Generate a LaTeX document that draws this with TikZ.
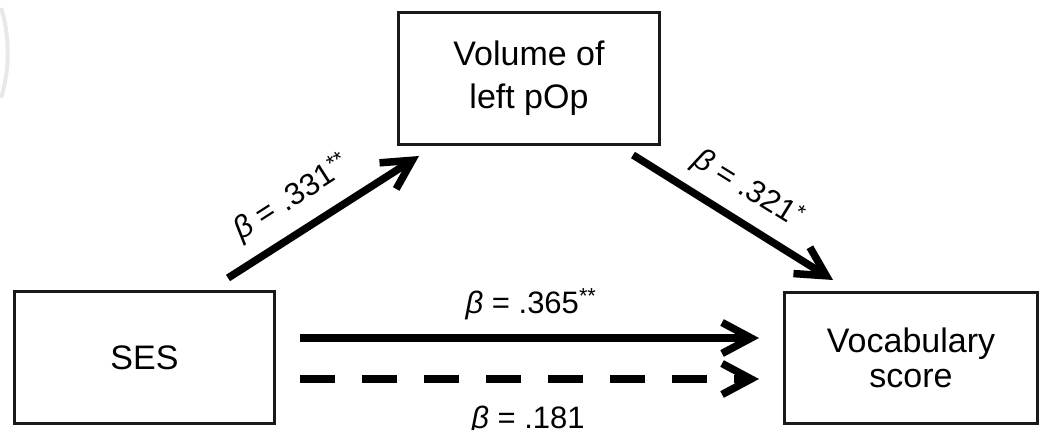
\documentclass[tikz,border=0pt]{standalone}
\usepackage{fontspec}
\setmainfont{Liberation Sans}
\usetikzlibrary{arrows.meta,calc}
\begin{document}
\begin{tikzpicture}[x=1pt,y=-1pt,
  box/.style={draw=black!90, line width=3pt, inner sep=0pt, align=center},
  boxfont/.style={font=\fontsize{34}{#1}\selectfont},
  lbl/.style={font=\fontsize{31}{36}\selectfont, inner sep=0pt},
  arr/.style={line width=7.5pt, -{Straight Barb[length=29pt,width=31pt]}},
  dasharr/.style={arr, dash pattern=on 35pt off 27pt}]
\useasboundingbox (0,0) rectangle (1043,430);
\draw[gray!18, line width=4pt] (1,8) .. controls (10,35) and (10,70) .. (1,98);
\node[box, boxfont=36, minimum width=260pt, minimum height=132pt] (ses) at (144.5,357.5) {SES};
\node[box, boxfont=35, minimum width=253pt, minimum height=131pt] (voc) at (911,358) {Vocabulary\\score};
\node[box, boxfont=43, minimum width=261pt, minimum height=132pt] (vol) at (529,78.5) {Volume of\\left pOp};
\coordinate (a1s) at (228,278);
\coordinate (a1e) at (419,156);
\coordinate (a2s) at (633,155);
\coordinate (a2e) at (833,280);
\coordinate (h1s) at (300,338);
\coordinate (h1e) at (759,338);
\coordinate (h2s) at (300,379);
\coordinate (h2e) at (759,379);
\draw[arr] (a1s) -- (a1e);
\draw[arr] (a2s) -- (a2e);
\draw[arr] (h1s) -- (h1e);
\draw[dasharr] (h2s) -- (h2e);
\node[lbl, rotate=32.6] (l331) at (292,198) {\textit{β} = .331\textsuperscript{**}};
\node[lbl, rotate=-31.8] (l321) at (748,189) {\textit{β} = .321\textsuperscript{*}};
\node[lbl, anchor=base] (l365) at (531,313) {\textit{β} = .365\textsuperscript{**}};
\node[lbl, anchor=base] (l181) at (528,428) {\textit{β} = .181};
\end{tikzpicture}
\end{document}
